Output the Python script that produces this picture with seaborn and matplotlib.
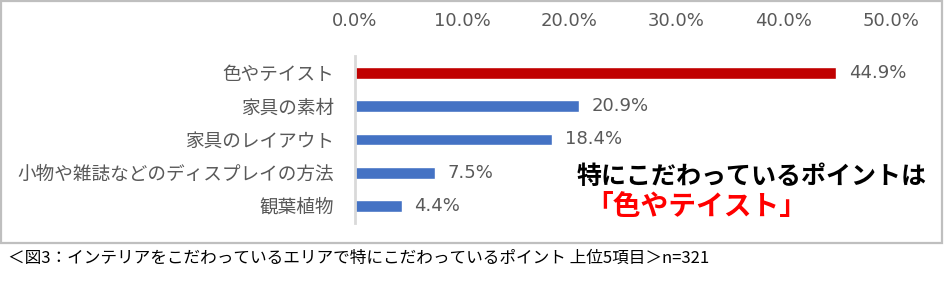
import matplotlib
matplotlib.use("Agg")
import matplotlib.pyplot as plt
import seaborn as sns
import pandas as pd
from matplotlib.patches import Rectangle

categories = ["色やテイスト", "家具の素材", "家具のレイアウト", "小物や雑誌などのディスプレイの方法", "観葉植物"]
values = [44.9, 20.9, 18.4, 7.5, 4.4]
bar_colors = ["#C00000", "#4472C4", "#4472C4", "#4472C4", "#4472C4"]
xticks = [0, 10, 20, 30, 40, 50]
xtick_labels = ["0.0%", "10.0%", "20.0%", "30.0%", "40.0%", "50.0%"]
note_line1 = "特にこだわっているポイントは"
note_line2 = "「色やテイスト」"
caption = "＜図3：インテリアをこだわっているエリアで特にこだわっているポイント 上位5項目＞n=321"

sns.set_theme(style="white")
plt.rcParams['font.family'] = ['Noto Sans CJK JP', 'DejaVu Sans']

W, H = 945, 284
fig = plt.figure(figsize=(W / 100, H / 100), dpi=100)

# outer frame
fig.patches.append(Rectangle((1 / W, 1 - 243 / H), 941 / W, 242 / H, transform=fig.transFigure,
                             fill=False, edgecolor="#BFBFBF", linewidth=1.6, zorder=0))

left, right = 355 / W, 891 / W
top, bottom = 1 - 56.4 / H, 1 - 222.6 / H
ax = fig.add_axes([left, bottom, right - left, top - bottom])

df = pd.DataFrame({"cat": categories, "val": values})
sns.barplot(data=df, x="val", y="cat", hue="cat", palette=bar_colors, legend=False,
            orient="h", width=0.35, ax=ax, saturation=1)

num_font = ["DejaVu Sans"]
ax.set_xlim(0, 50)
ax.set_ylim(4.5, -0.5)
ax.set_xlabel("")
ax.set_ylabel("")
ax.xaxis.tick_top()
ax.set_xticks(xticks)
ax.set_xticklabels(xtick_labels, family=num_font)
ax.tick_params(axis="x", length=0, pad=19, labelsize=13, labelcolor="#595959")
ax.tick_params(axis="y", length=0, pad=15, labelsize=13.4, labelcolor="#595959")
for s in ["top", "right", "bottom"]:
    ax.spines[s].set_visible(False)
ax.spines["left"].set_color("#D9D9D9")
ax.spines["left"].set_linewidth(2)
ax.set_facecolor("none")

for i, v in enumerate(values):
    ax.text(v + 1.15, i, f"{v:.1f}%", va="center", ha="left", fontsize=13,
            color="#595959", family=num_font)

fig.text(577 / W, 1 - 177 / H, note_line1, fontsize=18, fontweight="bold", color="black",
         ha="left", va="center")
fig.text(585 / W, 1 - 207 / H, note_line2, fontsize=20, fontweight="bold", color="#FF0000",
         ha="left", va="center")
fig.text(8 / W, 1 - 258 / H, caption, fontsize=12, color="black", ha="left", va="center")

fig.savefig("out.png", dpi=100, facecolor="white")
